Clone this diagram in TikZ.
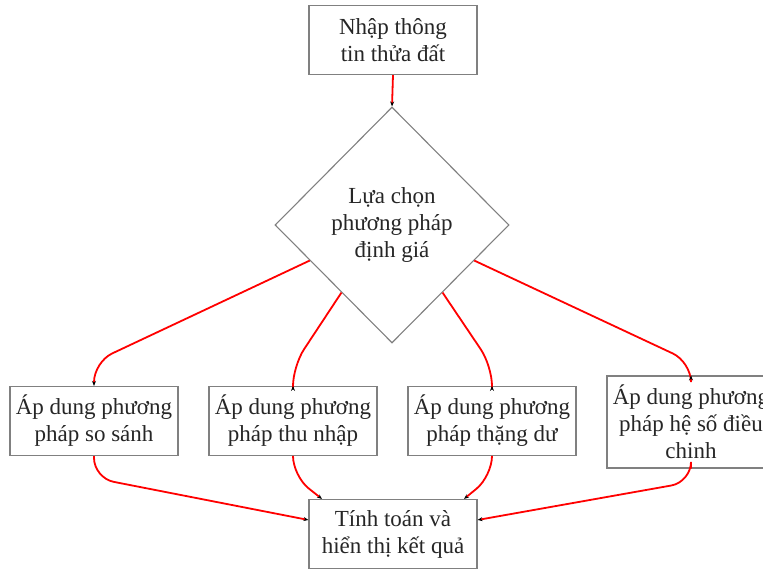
\documentclass[tikz,border=0pt]{standalone}
\usepackage{fontspec}
\setmainfont{Liberation Serif}
\usetikzlibrary{shapes.geometric,arrows.meta,calc}
\begin{document}
\begin{tikzpicture}[x=1pt,y=-1pt,
  font=\fontsize{23}{27}\selectfont,
  box/.style={draw=black!50, line width=1.1pt, fill=white, minimum width=168pt, minimum height=69pt, align=center, inner sep=0pt, text=black!85},
  choice/.style={draw=black!50, line width=1.1pt, fill=white, diamond, minimum width=234pt, minimum height=236pt, align=center, inner sep=0pt, text=black!85},
  conn/.style={draw=red, line width=1.8pt, rounded corners=20pt, -{Stealth[black, length=5pt, width=4pt]}}]
\useasboundingbox (0,0) rectangle (763,569);
\node[box] (top) at (393,40) {Nhập thông\\tin thửa đất};
\node[choice] (dia) at (392,225) {\raisebox{8pt}{\begin{tabular}{@{}c@{}}Lựa chọn\\phương pháp\\định giá\end{tabular}}};
\node[box] (b1) at (94,421) {Áp dung phương\\pháp so sánh};
\node[box] (b2) at (293,421) {Áp dung phương\\pháp thu nhập};
\node[box] (b3) at (492,421) {Áp dung phương\\pháp thặng dư};
\node[box, minimum height=92pt] (b4) at (691,422) {Áp dung phương\\pháp hệ số điều\\chinh};
\node[box] (res) at (393,534) {Tính toán và\\hiển thị kết quả};
\draw[conn] (top.south) -- (dia.north);
\draw[conn] ($(dia.west)!0.3!(dia.south)$) -- (b1.north |- 0,362) -- (b1.north);
\draw[conn] ($(dia.west)!0.57!(dia.south)$) -- (b2.north |- 0,366) -- (b2.north);
\draw[conn] ($(dia.east)!0.57!(dia.south)$) -- (b3.north |- 0,366) -- (b3.north);
\draw[conn] ($(dia.east)!0.3!(dia.south)$) -- (b4.north |- 0,362) -- (b4.north);
\draw[conn] (b1.south) -- (b1.south |- 0,478) -- ($(res.north west)!0.3!(res.south west)$);
\draw[conn] (b2.south) -- (b2.south |- 0,476) -- ($(res.north west)!0.08!(res.north east)$);
\draw[conn] (b3.south) -- (b3.south |- 0,476) -- ($(res.north west)!0.92!(res.north east)$);
\draw[conn] (b4.south) -- (b4.south |- 0,482) -- ($(res.north east)!0.3!(res.south east)$);
\end{tikzpicture}
\end{document}
